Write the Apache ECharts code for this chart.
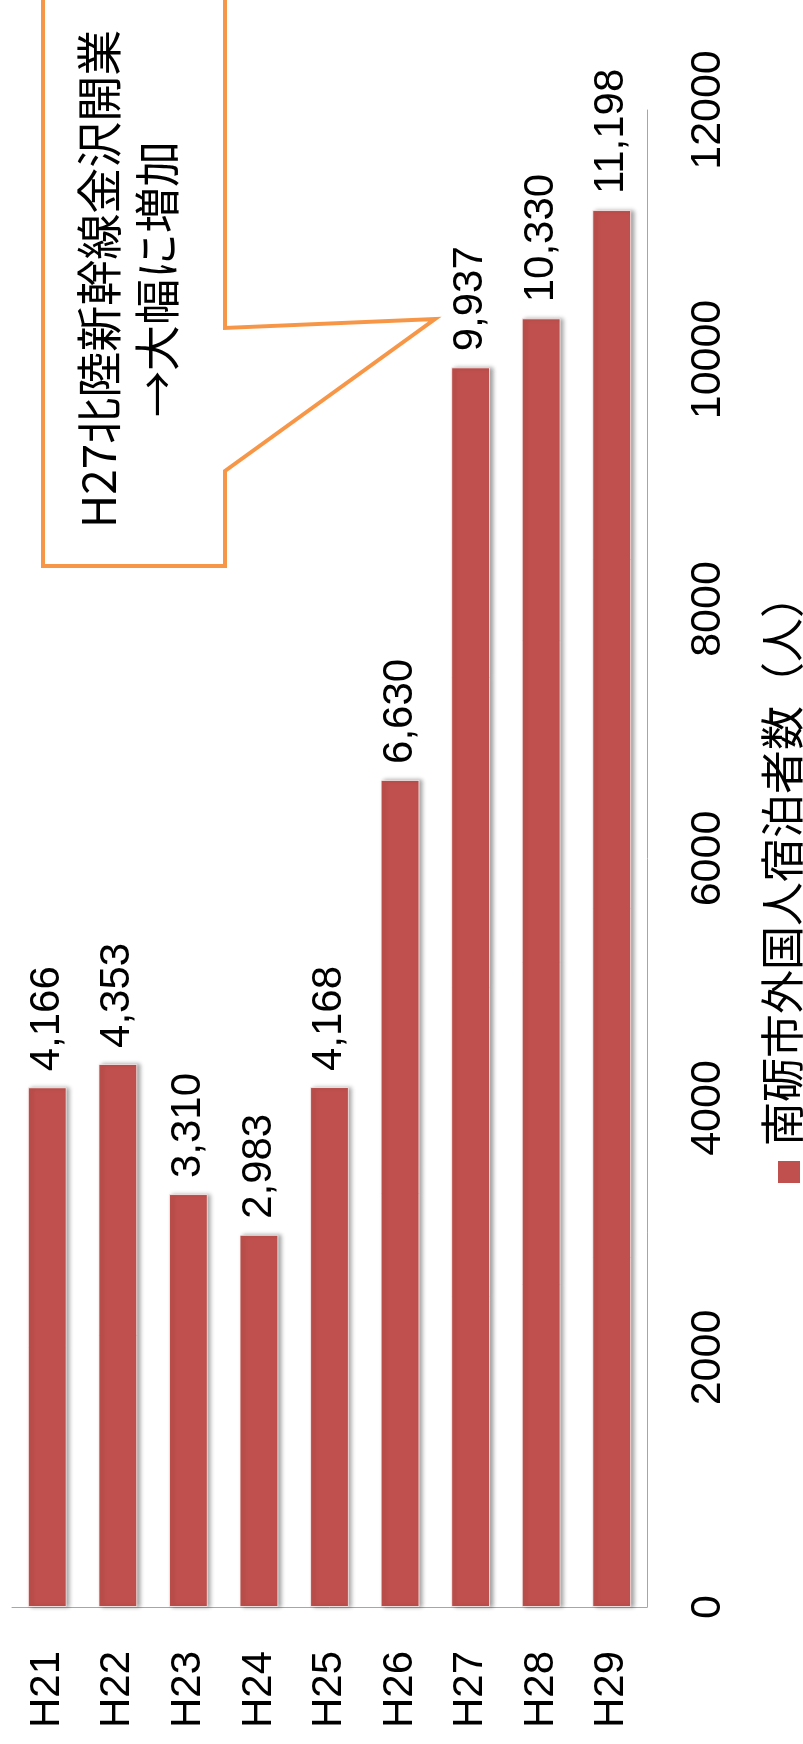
<!DOCTYPE html>
<html>
<head>
<meta charset="utf-8">
<script src="https://cdn.jsdelivr.net/npm/echarts@6/dist/echarts.min.js"></script>
<style>
html,body{margin:0;padding:0;background:#fff;}
#chart{width:803px;height:1744px;}
</style>
</head>
<body>
<div id="chart"></div>
<script>
// ---- data ----
const categories = ['H21', 'H22', 'H23', 'H24', 'H25', 'H26', 'H27', 'H28', 'H29'];
const visitors = [4166, 4353, 3310, 2983, 4168, 6630, 9937, 10330, 11198];
const seriesName = '南砺市外国人宿泊者数（人）';
const calloutLines = ['H27北陸新幹線金沢開業', '→大幅に増加'];
const valueMin = 0, valueMax = 12000, valueStep = 2000;

const numFont = '"Liberation Sans", Arial, sans-serif';
const cjkFont = '"Noto Sans CJK JP", "Noto Sans", sans-serif';

const chart = echarts.init(document.getElementById('chart'), null, {renderer: 'canvas'});
chart.setOption({
  animation: false,
  backgroundColor: '#ffffff',
  grid: {left: 12, right: 156, top: 110, bottom: 137, containLabel: false},
  xAxis: {
    type: 'category',
    data: categories,
    axisLine: {show: true, lineStyle: {color: '#A6A6A6', width: 1}},
    axisTick: {show: false},
    axisLabel: {rotate: 90, margin: 44, fontSize: 42, color: '#000', fontFamily: numFont}
  },
  yAxis: {
    type: 'value',
    position: 'right',
    min: valueMin, max: valueMax, interval: valueStep,
    axisLine: {show: true, lineStyle: {color: '#A6A6A6', width: 1}},
    axisTick: {show: false},
    splitLine: {show: false},
    axisLabel: {rotate: 90, margin: 40, fontSize: 43, color: '#000', fontFamily: numFont,
      formatter: v => String(v)}
  },
  series: [{
    name: seriesName,
    type: 'bar',
    data: visitors,
    barCategoryGap: '45%',
    itemStyle: {
      color: '#C0504D',
      borderColor: 'rgba(255,255,255,0.7)', borderWidth: 1,
      shadowColor: 'rgba(0,0,0,0.35)', shadowBlur: 4, shadowOffsetX: 3, shadowOffsetY: 0
    },
    label: {
      show: true, position: 'top', distance: 16, rotate: 90,
      align: 'left', verticalAlign: 'middle',
      fontSize: 42, color: '#000', fontFamily: numFont,
      formatter: p => p.value.toLocaleString('en-US')
    }
  }],
  graphic: [
    {
      type: 'polygon',
      shape: {points: [[43, -20], [43, 566], [225, 566], [225, 471], [435, 319], [225, 328], [225, -20]]},
      style: {fill: '#ffffff', stroke: '#F79646', lineWidth: 4, lineJoin: 'miter'},
      z: 10
    },
    {
      type: 'text',
      x: 128, y: 279, rotation: Math.PI / 2,
      style: {
        text: calloutLines.join('\n'),
        fontSize: 46, lineHeight: 58, fontFamily: cjkFont, fill: '#000',
        align: 'center', verticalAlign: 'middle'
      },
      z: 11
    },
    {
      type: 'rect',
      shape: {x: 778, y: 1161, width: 22, height: 22},
      style: {fill: '#C0504D'},
      z: 10
    },
    {
      type: 'text',
      x: 782, y: 1146, rotation: Math.PI / 2,
      style: {
        text: seriesName,
        fontSize: 44, fontFamily: cjkFont, fill: '#000',
        align: 'left', verticalAlign: 'middle'
      },
      z: 10
    }
  ]
});
</script>
</body>
</html>
